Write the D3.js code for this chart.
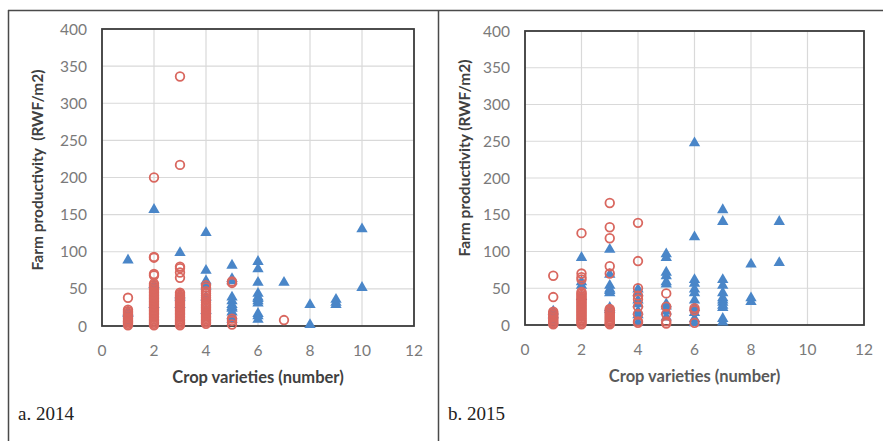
<!DOCTYPE html>
<html>
<head>
<meta charset="utf-8">
<script src="https://cdn.jsdelivr.net/npm/d3@7"></script>
<style>
  body { margin: 0; background: #fff; }
  svg { display: block; }
</style>
</head>
<body>
<script>
// 2014 values (crop varieties -> farm productivity RWF/m2)
const blue2014 = {
  1: [90, 20, 18, 5],
  2: [158, 57, 30],
  3: [100, 43, 40, 30],
  4: [127, 76, 62, 55, 40, 22],
  5: [83, 65, 62, 40, 35, 30, 27, 25, 20, 15, 10],
  6: [88, 78, 60, 45, 40, 38, 35, 32, 18, 15, 10],
  7: [60],
  8: [30, 3],
  9: [37, 33, 30],
  10: [132, 53]
};
const red2014 = {
  1: [38, 22, 20, 18, 16, 14, 12, 10, 8, 6, 5, 3, 1],
  2: [200, 93, 92, 70, 68, 57, 55, 53, 51, 49, 47, 45, 43, 41, 39, 37, 35, 33, 31, 29, 27, 25, 23, 21, 19, 17, 15, 13, 11, 9, 7, 5, 3, 1],
  3: [336, 217, 80, 78, 72, 65, 45, 43, 41, 39, 37, 35, 33, 31, 29, 27, 25, 23, 21, 19, 17, 15, 13, 11, 9, 7, 5, 3, 1],
  4: [55, 52, 47, 44, 41, 38, 35, 32, 29, 27, 25, 23, 21, 19, 17, 15, 13, 11, 9, 7, 5, 3],
  5: [60, 58, 10, 7, 2],
  7: [8]
};
// 2015 values
const blue2015 = {
  1: [20, 15, 5],
  2: [93, 60, 55, 40],
  3: [104, 70, 55, 50, 48, 45, 25, 22],
  4: [50, 45, 35, 30, 20, 15, 5],
  5: [98, 93, 73, 68, 60, 57, 30, 27, 20, 12],
  6: [249, 121, 63, 58, 50, 45, 35, 25, 18, 10, 4],
  7: [158, 142, 63, 55, 45, 38, 35, 32, 28, 25, 10, 5],
  8: [84, 38, 33],
  9: [142, 86]
};
const red2015 = {
  1: [67, 38, 18, 16, 14, 12, 10, 8, 6, 4, 2, 1],
  2: [125, 70, 65, 62, 45, 43, 41, 39, 37, 35, 33, 31, 29, 27, 25, 23, 21, 19, 17, 15, 13, 11, 9, 7, 5, 3, 1],
  3: [166, 133, 118, 80, 70, 22, 20, 18, 16, 14, 12, 10, 8, 6, 4, 2, 1],
  4: [139, 87, 50, 40, 35, 25, 15, 5, 3],
  5: [43, 25, 15, 5, 2],
  6: [23, 20, 3]
};
const xTicks = [0, 2, 4, 6, 8, 10, 12];
const yTicks = [0, 50, 100, 150, 200, 250, 300, 350, 400];

function flat(obj) {
  const out = [];
  Object.keys(obj).forEach(k => obj[k].forEach(v => out.push({x: +k, y: v})));
  return out;
}

const svg = d3.select("body").append("svg")
  .attr("width", 883).attr("height", 441);

// panel frame lines
const frame = svg.append("g").attr("stroke", "#4a4a4a").attr("stroke-width", 1.5).attr("fill", "none");
frame.append("line").attr("x1", 8).attr("x2", 883).attr("y1", 10.5).attr("y2", 10.5);
frame.append("line").attr("x1", 8.5).attr("x2", 8.5).attr("y1", 10).attr("y2", 441);
frame.append("line").attr("x1", 438.5).attr("x2", 438.5).attr("y1", 10).attr("y2", 441);

function panel(cfg) {
  const x = d3.scaleLinear().domain([0, 12]).range([cfg.left, cfg.right]);
  const y = d3.scaleLinear().domain([0, 400]).range([cfg.bottom, cfg.top]);
  const g = svg.append("g");

  // gridlines
  g.selectAll(".gx").data(xTicks.slice(1, -1)).enter().append("line")
    .attr("x1", d => x(d)).attr("x2", d => x(d))
    .attr("y1", cfg.top).attr("y2", cfg.bottom)
    .attr("stroke", "#d9d9d9").attr("stroke-width", 1.2);
  g.selectAll(".gy").data(yTicks.slice(1, -1)).enter().append("line")
    .attr("x1", cfg.left).attr("x2", cfg.right)
    .attr("y1", d => y(d)).attr("y2", d => y(d))
    .attr("stroke", "#d9d9d9").attr("stroke-width", 1.2);

  // plot border
  g.append("rect")
    .attr("x", cfg.left).attr("y", cfg.top)
    .attr("width", cfg.right - cfg.left).attr("height", cfg.bottom - cfg.top)
    .attr("fill", "none").attr("stroke", "#3a3a3a").attr("stroke-width", 1.8);

  // tick labels
  g.selectAll(".tx").data(xTicks).enter().append("text")
    .attr("x", d => x(d)).attr("y", cfg.bottom + 30)
    .attr("text-anchor", "middle")
    .attr("font-family", "Lato, sans-serif").attr("font-size", 15.5)
    .attr("fill", "#7a7a7a").text(d => d);
  g.selectAll(".ty").data(yTicks).enter().append("text")
    .attr("x", cfg.left - 15).attr("y", d => y(d) + 5.5)
    .attr("text-anchor", "end")
    .attr("font-family", "Lato, sans-serif").attr("font-size", 15.5)
    .attr("fill", "#7a7a7a").text(d => d);

  // blue triangles
  const tri = d3.symbol().type(d3.symbolTriangle).size(56);
  g.selectAll(".b").data(flat(cfg.blue)).enter().append("path")
    .attr("d", tri)
    .attr("transform", d => `translate(${x(d.x)},${y(d.y) + 1})`)
    .attr("fill", "#4a86c8");

  // red open circles
  g.selectAll(".r").data(flat(cfg.red)).enter().append("circle")
    .attr("cx", d => x(d.x)).attr("cy", d => y(d.y)).attr("r", 4.3)
    .attr("fill", "none").attr("stroke", "#d9675f").attr("stroke-width", 1.8);

  // axis titles
  g.append("text")
    .attr("x", (cfg.left + cfg.right) / 2).attr("y", cfg.bottom + 57)
    .attr("text-anchor", "middle")
    .attr("font-family", "Lato, sans-serif").attr("font-size", 16.5).attr("font-weight", "bold")
    .attr("fill", cfg.titleColor).text("Crop varieties (number)");
  g.append("text")
    .attr("transform", `translate(${cfg.ylabX},${cfg.ylabY}) rotate(-90)`)
    .attr("text-anchor", "middle")
    .attr("font-family", "Lato, sans-serif").attr("font-size", 15.5).attr("font-weight", "bold")
    .attr("fill", "#404040").attr("xml:space", "preserve")
    .style("white-space", "pre").text(cfg.ylab);

  // caption
  g.append("text")
    .attr("x", cfg.capX).attr("y", 420)
    .attr("font-family", "'Liberation Serif', 'Times New Roman', serif").attr("font-size", 19)
    .attr("fill", "#222").text(cfg.caption);
}

panel({
  left: 102, right: 414, top: 29, bottom: 326,
  blue: blue2014, red: red2014,
  ylab: "Farm productivity  (RWF/m2)", ylabX: 43, ylabY: 170,
  titleColor: "#404040", caption: "a. 2014", capX: 18
});
panel({
  left: 525, right: 864, top: 31, bottom: 325,
  blue: blue2015, red: red2015,
  ylab: "Farm productivity (RWF/m2)", ylabX: 470, ylabY: 158,
  titleColor: "#595959", caption: "b. 2015", capX: 448
});
</script>
</body>
</html>
